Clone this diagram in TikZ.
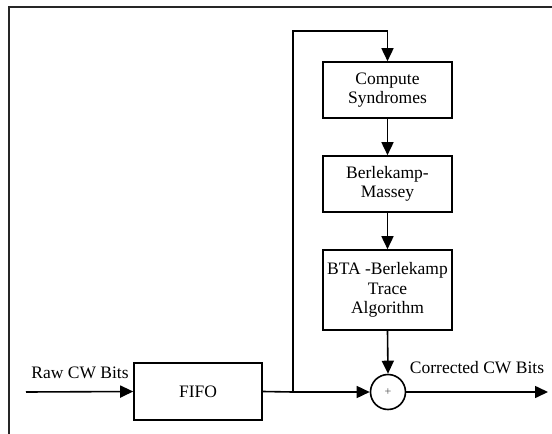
\documentclass[tikz,border=0pt]{standalone}
\usepackage{fontspec}
\setmainfont{Liberation Serif}
\usetikzlibrary{arrows.meta}
\begin{document}
\begin{tikzpicture}[x=1pt,y=-1pt,
  line width=1.6pt,
  font=\fontsize{17.5}{19.5}\selectfont,
  blockbox/.style={draw, line width=1.6pt, align=center, inner sep=0pt},
  sumnode/.style={draw, circle, line width=1.6pt, minimum size=35pt, inner sep=0pt},
  flow/.style={-{Triangle[length=13pt,width=12pt]}},
  lbl/.style={inner sep=0pt}]
\useasboundingbox (0,0) rectangle (552,434);
% outer frame (top and left edges)
\draw[line width=1.2pt, black!85] (552,7) -- (9,7) -- (9,434);

% blocks
\node[blockbox, minimum width=128pt, minimum height=57pt] (fifo) at (198,391.5) {FIFO};
\node[blockbox, minimum width=129pt, minimum height=56pt] (syn) at (387.5,90) {Compute\\Syndromes};
\node[blockbox, minimum width=129pt, minimum height=56pt] (bm) at (387.5,184) {Berlekamp-\\Massey};
\node[blockbox, minimum width=129pt, minimum height=80pt] (bta) at (387.5,290) {BTA -Berlekamp\\Trace\\Algorithm};
\node[sumnode] (sum) at (388,392) {\fontsize{12}{12}\selectfont\textcolor{black!70}{+}};

% connection points
\coordinate (in) at (26,392);
\coordinate (out) at (548,392);
\coordinate (split) at (293,392);
\coordinate (top) at (293,31);

% connectors
\draw[flow] (in) -- (fifo.west);
\draw (fifo.east) -- (split);
\draw[flow] (split) -- (sum.west);
\draw[flow] (split) -- (top) -| (syn.north);
\draw[flow] (syn.south) -- (bm.north);
\draw[flow] (bm.south) -- (bta.north);
\draw[flow] (bta.south) -- (sum.north);
\draw[flow] (sum.east) -- (out);

% labels
\node[lbl] (rawlbl) at (80,373) {Raw CW Bits};
\node[lbl] (corrlbl) at (477,368) {Corrected CW Bits};
\end{tikzpicture}
\end{document}
